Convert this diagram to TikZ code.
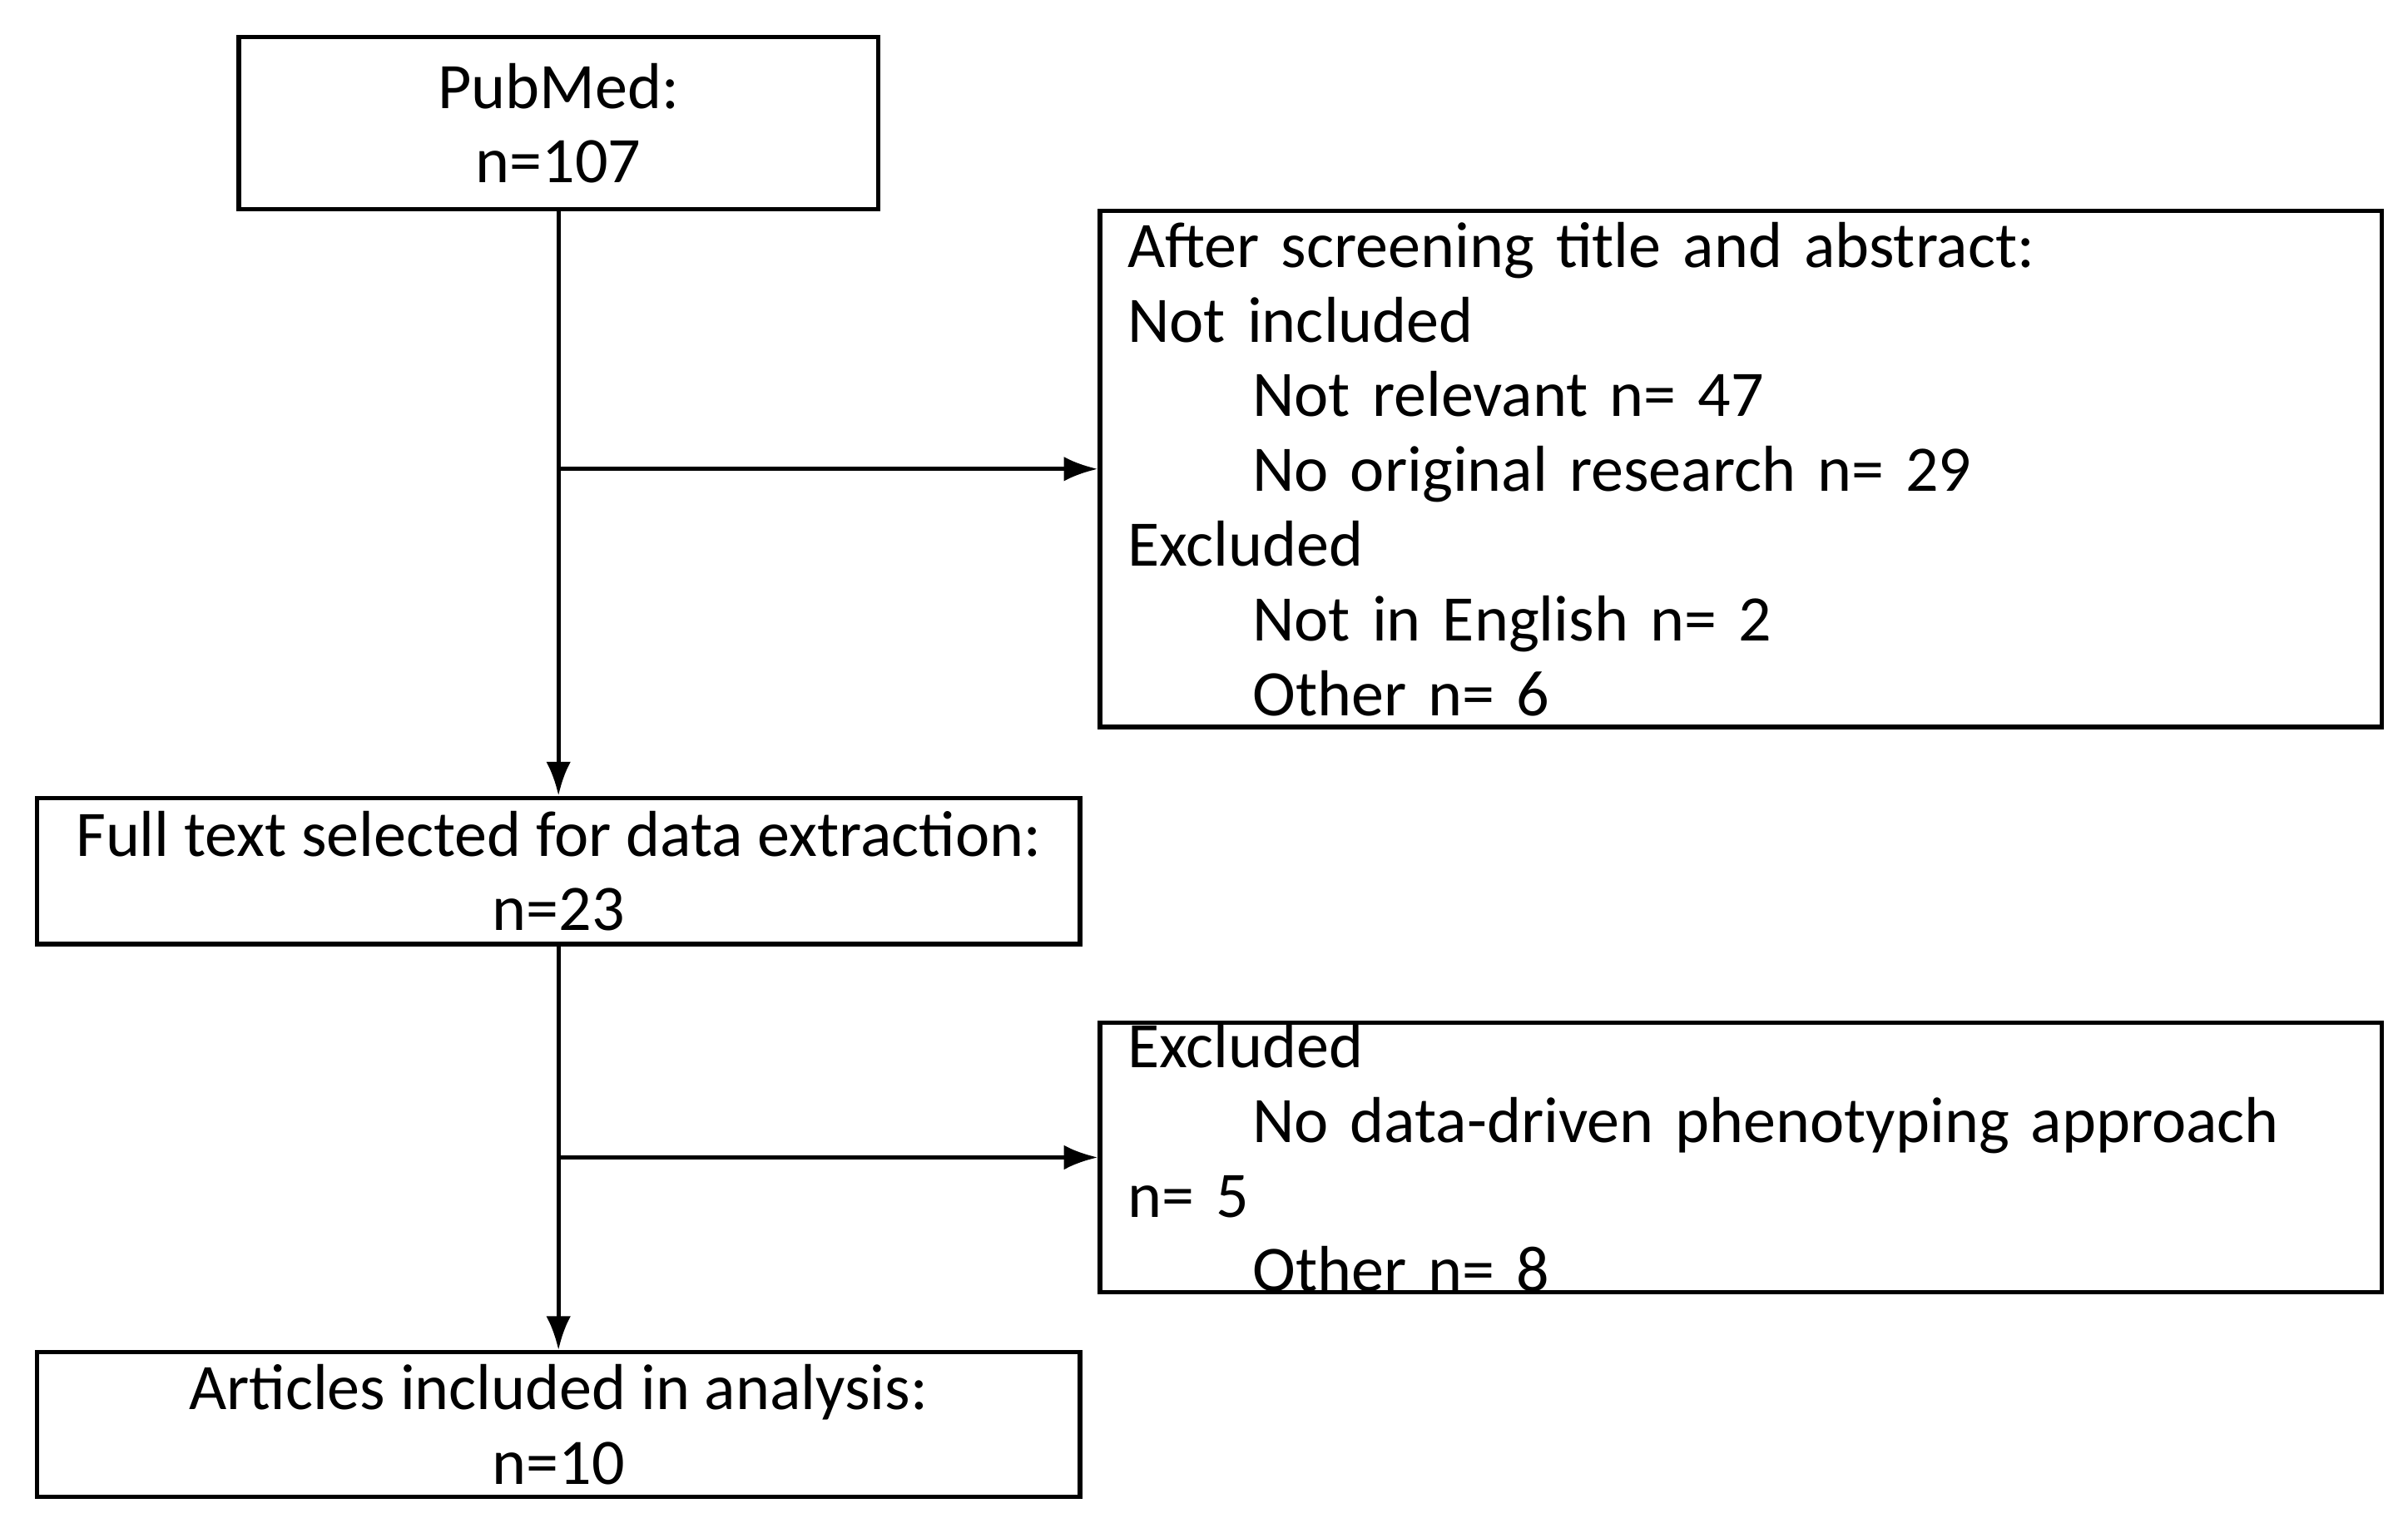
\documentclass[tikz,border=0pt]{standalone}
\usepackage{fontspec}
\setmainfont{Carlito}
\usetikzlibrary{arrows.meta}
\tikzset{
  box/.style={draw, thick, inner sep=0pt, align=center, font=\fontsize{12}{13.8}\selectfont},
  side/.style={draw, thick, inner xsep=0.18cm, inner ysep=0pt, align=left, font=\fontsize{12}{13.8}\selectfont},
  flow/.style={thick, -{Latex[length=2.2mm,width=1.6mm]}}
}
\newcommand{\ind}{\hspace*{0.81cm}}
\begin{document}
\begin{tikzpicture}
\useasboundingbox (0,0) rectangle (15.63,-9.95);

\node[box, minimum width=4.15cm, minimum height=1.12cm] (pubmed) at (3.625,-0.80) {PubMed:\\n=107};
\node[box, minimum width=6.77cm, minimum height=0.95cm] (full) at (3.625,-5.655) {Full text selected for data extraction:\\n=23};
\node[box, minimum width=6.77cm, minimum height=0.94cm] (articles) at (3.625,-9.25) {Articles included in analysis:\\n=10};

\node[side, minimum width=8.32cm, minimum height=3.35cm, text width=7.96cm] (screen) at (11.30,-3.045) {After screening title and abstract:\\Not included\\\ind Not relevant n= 47\\\ind No original research n= 29\\Excluded\\\ind Not in English n= 2\\\ind Other n= 6};
\node[side, minimum width=8.32cm, minimum height=1.63cm, text width=7.96cm] (excl) at (11.30,-7.515) {Excluded\\\ind No data-driven phenotyping approach n= 5\\\ind Other n= 8};

\coordinate (b1) at (pubmed.south |- screen.west);
\coordinate (b2) at (full.south |- excl.west);

\draw[flow] (pubmed.south) -- (full.north);
\draw[flow] (full.south) -- (articles.north);
\draw[flow] (b1) -- (screen.west);
\draw[flow] (b2) -- (excl.west);
\end{tikzpicture}
\end{document}
